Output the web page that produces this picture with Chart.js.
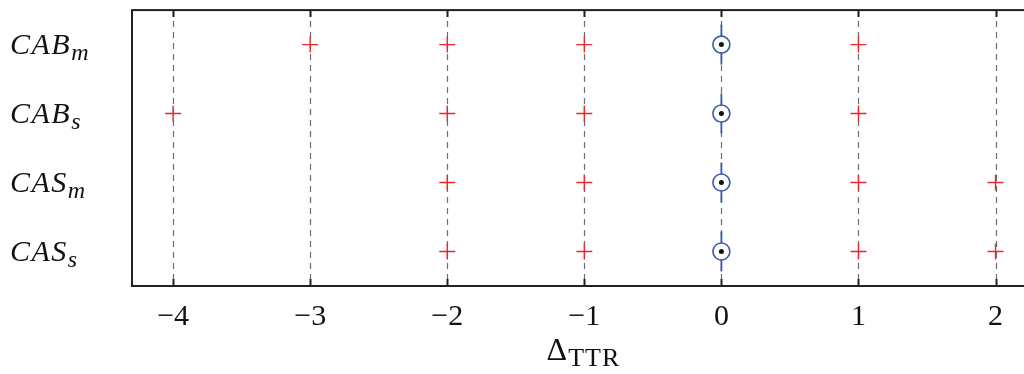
<!DOCTYPE html>
<html>
<head>
<meta charset="utf-8">
<script src="https://cdn.jsdelivr.net/npm/chart.js@4/dist/chart.umd.min.js"></script>
<style>
  html, body { margin: 0; padding: 0; background: #fff; overflow: hidden; }
  #wrap { width: 1044px; height: 374px; }
</style>
</head>
<body>
<div id="wrap"><canvas id="chart" width="1044" height="374"></canvas></div>
<script>
// rows, top to bottom
var rowNames = ['CAB', 'CAB', 'CAS', 'CAS'];
var rowSubs = ['m', 's', 'm', 's'];
var rowPos = [1, 2, 3, 4];

// red crosses per row (delta TTR values)
var crossCABm = [-3, -2, -1, 1];
var crossCABs = [-4, -2, -1, 1];
var crossCASm = [-2, -1, 1, 2];
var crossCASs = [-2, -1, 1, 2];

// blue reference marker per row
var refValues = [0, 0, 0, 0];
var refHalfSpan = 0.29;

var xTicks = [-4, -3, -2, -1, 0, 1, 2];
var xMin = -4.3;
var xMax = 2.28;

var serif = '"Liberation Serif", "DejaVu Serif", serif';

var crossRows = [crossCABm, crossCABs, crossCASm, crossCASs];
var crossPoints = [];
crossRows.forEach(function (row, i) {
  row.forEach(function (v) { crossPoints.push({ x: v, y: rowPos[i] }); });
});
var refPoints = refValues.map(function (v, i) { return { x: v, y: rowPos[i] }; });

var datasets = [];
refValues.forEach(function (v, i) {
  datasets.push({
    type: 'line',
    data: [{ x: v, y: rowPos[i] - refHalfSpan }, { x: v, y: rowPos[i] + refHalfSpan }],
    borderColor: '#3a5aae',
    borderWidth: 1.8,
    pointRadius: 0,
    order: 3
  });
});
datasets.push({
  type: 'scatter',
  data: refPoints,
  pointStyle: 'circle',
  pointRadius: 8.5,
  pointBackgroundColor: '#ffffff',
  pointBorderColor: '#3a5aae',
  pointBorderWidth: 1.6,
  order: 2
});
datasets.push({
  type: 'scatter',
  data: refPoints,
  pointStyle: 'circle',
  pointRadius: 2.5,
  pointBackgroundColor: '#111111',
  pointBorderColor: '#111111',
  pointBorderWidth: 0,
  order: 1
});
datasets.push({
  type: 'scatter',
  data: crossPoints,
  pointStyle: 'cross',
  pointRadius: 8,
  pointBorderColor: '#e8262e',
  pointBorderWidth: 1.4,
  order: 0
});

// dashed grid, frame, ticks and math-style labels
var decorPlugin = {
  id: 'decor',
  beforeDatasetsDraw: function (chart) {
    var ctx = chart.ctx, a = chart.chartArea, xs = chart.scales.x;
    ctx.save();
    ctx.strokeStyle = '#6e6e6e';
    ctx.lineWidth = 1.2;
    ctx.setLineDash([6, 5]);
    xTicks.forEach(function (v) {
      var px = Math.round(xs.getPixelForValue(v)) + 0.5;
      ctx.beginPath();
      ctx.moveTo(px, a.top);
      ctx.lineTo(px, a.bottom);
      ctx.stroke();
    });
    ctx.restore();
  },
  afterDraw: function (chart) {
    var ctx = chart.ctx, a = chart.chartArea, xs = chart.scales.x, ys = chart.scales.y;
    ctx.save();
    ctx.strokeStyle = '#222';
    ctx.lineWidth = 2;
    ctx.strokeRect(a.left, a.top, a.right - a.left, a.bottom - a.top);
    xTicks.forEach(function (v) {
      var px = Math.round(xs.getPixelForValue(v)) + 0.5;
      ctx.beginPath();
      ctx.moveTo(px, a.bottom); ctx.lineTo(px, a.bottom - 7);
      ctx.moveTo(px, a.top); ctx.lineTo(px, a.top + 7);
      ctx.stroke();
    });
    // y labels
    ctx.fillStyle = '#111';
    ctx.textBaseline = 'alphabetic';
    ctx.textAlign = 'left';
    rowPos.forEach(function (p, i) {
      var py = ys.getPixelForValue(p) + 9;
      ctx.font = 'italic 30px ' + serif;
      ctx.letterSpacing = '1.5px';
      ctx.fillText(rowNames[i], 10, py);
      var w = ctx.measureText(rowNames[i]).width;
      ctx.font = 'italic 24px ' + serif;
      ctx.letterSpacing = '0px';
      ctx.fillText(rowSubs[i], 10 + w, py + 6);
    });
    // x title
    var cx = (a.left + a.right) / 2;
    ctx.font = '32px ' + serif;
    var wD = ctx.measureText('\u0394').width;
    ctx.font = '26px ' + serif;
    ctx.letterSpacing = '1px';
    var wT = ctx.measureText('TTR').width;
    var x0 = cx - (wD + wT) / 2;
    ctx.letterSpacing = '0px';
    ctx.font = '32px ' + serif;
    ctx.fillText('\u0394', x0, 360);
    ctx.font = '26px ' + serif;
    ctx.letterSpacing = '1px';
    ctx.fillText('TTR', x0 + wD + 1, 366);
    ctx.restore();
  }
};

var chart = new Chart(document.getElementById('chart').getContext('2d'), {
  data: { datasets: datasets },
  options: {
    responsive: false,
    animation: false,
    layout: { padding: { top: 8, right: 0, left: 0, bottom: 0 } },
    plugins: { legend: { display: false }, tooltip: { enabled: false } },
    scales: {
      x: {
        type: 'linear',
        min: xMin,
        max: xMax,
        afterBuildTicks: function (scale) {
          scale.ticks = xTicks.map(function (v) { return { value: v }; });
        },
        afterFit: function (scale) { scale.height = 88; },
        grid: { display: false, drawTicks: false },
        border: { display: false },
        ticks: {
          padding: 13,
          color: '#111',
          font: { family: serif, size: 30 },
          maxRotation: 0,
          autoSkip: false,
          callback: function (v) { return v < 0 ? '\u2212' + Math.abs(v) : String(v); }
        }
      },
      y: {
        type: 'linear',
        reverse: true,
        min: 0.5,
        max: 4.5,
        afterFit: function (scale) { scale.width = 132; },
        grid: { display: false, drawTicks: false },
        border: { display: false },
        ticks: { display: false }
      }
    }
  },
  plugins: [decorPlugin]
});
</script>
</body>
</html>
